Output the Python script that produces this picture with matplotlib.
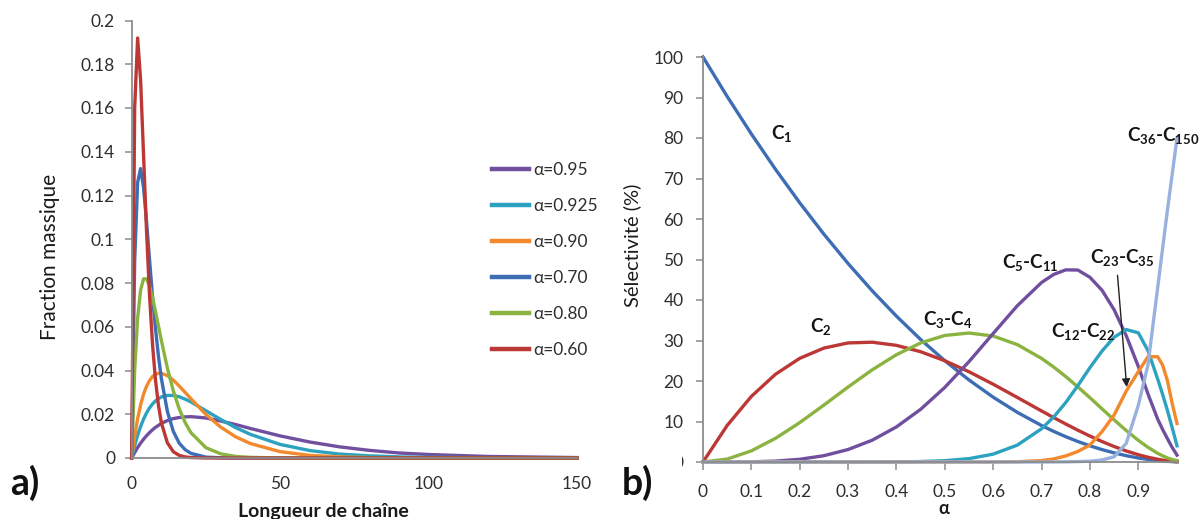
import matplotlib
matplotlib.use("Agg")
import matplotlib.pyplot as plt
from matplotlib.patches import Rectangle

plt.rcParams['font.family'] = ['Lato', 'DejaVu Sans']
plt.rcParams['mathtext.fontset'] = 'custom'
plt.rcParams['mathtext.rm'] = 'Lato'
plt.rcParams['mathtext.it'] = 'Lato:italic'
plt.rcParams['mathtext.bf'] = 'Lato:bold'

# ---------------- panel a) data ----------------
chain_len = [0, 1, 2, 3, 4, 5, 6, 7, 8, 9, 10, 12, 14, 16, 18, 20, 25, 30, 35, 40,
             50, 60, 70, 80, 90, 100, 120, 150]
w_095 = [0, .0025, .0048, .0068, .0086, .0102, .0116, .0129, .0140, .0149, .0158,
         .0171, .0180, .0185, .0188, .0189, .0183, .0169, .0153, .0135,
         .0101, .0073, .0051, .0035, .0023, .0016, .0007, .0002]
w_0925 = [0, .0056, .0104, .0144, .0178, .0206, .0229, .0247, .0261, .0271, .0279,
          .0286, .0286, .0280, .0269, .0256, .0216, .0176, .0139, .0108,
          .0062, .0034, .0018, .0010, .0005, .0003, .0001, 0]
w_090 = [0, .0100, .0180, .0243, .0292, .0328, .0354, .0372, .0383, .0387, .0387,
         .0377, .0356, .0329, .0300, .0270, .0199, .0141, .0097, .0066,
         .0029, .0012, .0005, .0002, .0001, 0, 0, 0]
w_070 = [0, .0900, .1260, .1323, .1235, .1080, .0908, .0741, .0593, .0467, .0363,
         .0214, .0122, .0068, .0038, .0021, .0004, .0001, 0, 0,
         0, 0, 0, 0, 0, 0, 0, 0]
w_080 = [0, .0400, .0640, .0768, .0819, .0819, .0786, .0734, .0671, .0604, .0537,
         .0412, .0308, .0225, .0162, .0115, .0047, .0019, .0007, .0003,
         0, 0, 0, 0, 0, 0, 0, 0]
w_060 = [0, .1600, .1920, .1728, .1382, .1037, .0746, .0522, .0358, .0242, .0161,
         .0070, .0029, .0012, .0005, .0002, 0, 0, 0, 0,
         0, 0, 0, 0, 0, 0, 0, 0]
legend_a = ['α=0.95', 'α=0.925', 'α=0.90', 'α=0.70', 'α=0.80', 'α=0.60']
ytick_a = [0, 0.02, 0.04, 0.06, 0.08, 0.1, 0.12, 0.14, 0.16, 0.18, 0.2]
ytick_a_lbl = ['0', '0.02', '0.04', '0.06', '0.08', '0.1', '0.12', '0.14', '0.16', '0.18', '0.2']
xtick_a = [0, 50, 100, 150]

# ---------------- panel b) data ----------------
alpha = [0, .05, .1, .15, .2, .25, .3, .35, .4, .45, .5, .55, .6, .65, .7,
         .725, .75, .775, .8, .825, .85, .875, .9, .92, .94, .95, .96, .97, .98]
s_c1 = [100, 90.25, 81, 72.25, 64, 56.25, 49, 42.25, 36, 30.25, 25, 20.25, 16, 12.25, 9,
        7.56, 6.25, 5.06, 4, 3.06, 2.25, 1.56, 1.0, 0.64, 0.36, 0.25, 0.16, 0.09, 0.04]
s_c2 = [0, 9.03, 16.2, 21.68, 25.6, 28.13, 29.4, 29.58, 28.8, 27.23, 25.0, 22.28, 19.2, 15.93, 12.6,
        10.97, 9.38, 7.85, 6.4, 5.05, 3.83, 2.73, 1.8, 1.18, 0.68, 0.48, 0.31, 0.17, 0.08]
s_c3_4 = [0, 0.72, 2.75, 5.85, 9.73, 14.06, 18.52, 22.77, 26.5, 29.4, 31.25, 31.85, 31.1, 28.98, 25.58,
          23.45, 21.09, 18.55, 15.87, 13.13, 10.4, 7.78, 5.35, 3.62, 2.15, 1.54, 1.02, 0.6, 0.33]
s_c5_11 = [0, 0, 0.05, 0.22, 0.67, 1.56, 3.08, 5.39, 8.67, 13.01, 18.43, 24.79, 31.74, 38.6, 44.32,
           46.31, 47.44, 47.4, 45.6, 42.4, 37.6, 31.2, 23.6, 16.8, 10.6, 8.1, 5.8, 3.6, 1.7]
s_c12_22 = [0, 0, 0, 0, 0, 0, 0, 0.01, 0.03, 0.11, 0.32, 0.83, 1.95, 4.18, 8.21,
            11.11, 14.68, 18.87, 23.3, 27.4, 30.8, 32.7, 31.9, 27.5, 20.5, 16.8, 12.8, 8.5, 4.0]
s_c23_35 = [0, 0, 0, 0, 0, 0, 0, 0, 0, 0, 0, 0, 0.01, 0.07, 0.35,
            0.75, 1.5, 2.6, 4.2, 7.5, 11.6, 17.5, 22.3, 26.0, 26.0, 24.0, 20.2, 14.5, 9.5]
s_c36_150 = [0, 0, 0, 0, 0, 0, 0, 0, 0, 0, 0, 0, 0, 0, 0,
             0.01, 0.04, 0.1, 0.2, 0.5, 1.3, 4.6, 14.0, 24.0, 43.0, 52.5, 62.0, 71.0, 80.0]
ytick_b = [0, 10, 20, 30, 40, 50, 60, 70, 80, 90, 100]
xtick_b = [0, 0.1, 0.2, 0.3, 0.4, 0.5, 0.6, 0.7, 0.8, 0.9]
xtick_b_lbl = ['0', '0.1', '0.2', '0.3', '0.4', '0.5', '0.6', '0.7', '0.8', '0.9']
labels_b = [r'$\mathbf{C_{1}}$', r'$\mathbf{C_{2}}$', r'$\mathbf{C_{3}}$-$\mathbf{C_{4}}$',
            r'$\mathbf{C_{5}}$-$\mathbf{C_{11}}$', r'$\mathbf{C_{12}}$-$\mathbf{C_{22}}$',
            r'$\mathbf{C_{23}}$-$\mathbf{C_{35}}$', r'$\mathbf{C_{36}}$-$\mathbf{C_{150}}$']
label_pos_b = [(0.162, 81), (0.243, 33.4), (0.5065, 35.2), (0.676, 49.3),
               (0.786, 32.1), (0.867, 50.4), (0.951, 80.5)]

# colours
BLUE = '#3D6DB5'
RED = '#BC3836'
GREEN = '#8AB340'
PURPLE = '#714F9F'
TEAL = '#2DA2C0'
ORANGE = '#F2892C'
LBLUE = '#98B1DD'
SPINE = '#8C8C8C'
TXT = '#2E2E2E'

W, H = 1199, 519
fig = plt.figure(figsize=(W / 100, H / 100), dpi=100)
fig.patch.set_facecolor('white')


def style_axes(ax):
    for s in ('top', 'right'):
        ax.spines[s].set_visible(False)
    for s in ('left', 'bottom'):
        ax.spines[s].set_color(SPINE)
        ax.spines[s].set_linewidth(1.3)
    ax.tick_params(colors=SPINE, labelcolor=TXT, labelsize=12.5, width=1.1)


# ---------------- panel a ----------------
axa = fig.add_axes([131.7 / W, 1 - 458 / H, (577 - 131.7) / W, (458 - 20.5) / H])
series_a = [w_095, w_0925, w_090, w_070, w_080, w_060]
colors_a = [PURPLE, TEAL, ORANGE, BLUE, GREEN, RED]
for ys, c, lab in zip(series_a, colors_a, legend_a):
    axa.plot(chain_len, ys, color=c, lw=2.4, label=lab, solid_joinstyle='round',
             clip_on=False)
axa.set_xlim(0, 150)
axa.set_ylim(0, 0.2)
style_axes(axa)
axa.set_yticks(ytick_a)
axa.set_yticklabels(ytick_a_lbl)
axa.set_xticks(xtick_a)
axa.tick_params(axis='y', direction='out', length=5, pad=7)
axa.tick_params(axis='x', length=0, pad=13)
leg = axa.legend(loc='upper left', bbox_to_anchor=(492 / W, 1 - 162 / H),
                 bbox_transform=fig.transFigure, frameon=False, fontsize=12.5,
                 handlelength=2.15, handletextpad=0.25, labelspacing=1.15,
                 borderpad=0, borderaxespad=0)
for line in leg.get_lines():
    line.set_linewidth(3.2)
for t in leg.get_texts():
    t.set_color(TXT)

fig.text(50 / W, 1 - 257 / H, 'Fraction massique', rotation=90, ha='center',
         va='center', fontsize=15, color='#1A1A1A')
fig.text(323 / W, 1 - 517 / H, 'Longueur de chaîne', ha='center', va='baseline',
         fontsize=14, fontweight='bold', color='#1A1A1A')
fig.text(10 / W, 1 - 495 / H, 'a)', ha='left', va='baseline', fontsize=27,
         fontweight='bold', color='#111111')

# ---------------- panel b ----------------
axb = fig.add_axes([703 / W, 1 - 462 / H, (1177 - 703) / W, (462 - 57) / H])
series_b = [s_c1, s_c2, s_c3_4, s_c5_11, s_c12_22, s_c23_35, s_c36_150]
colors_b = [BLUE, RED, GREEN, PURPLE, TEAL, ORANGE, LBLUE]
for ys, c in zip(series_b, colors_b):
    axb.plot(alpha, ys, color=c, lw=2.4, solid_joinstyle='round', clip_on=False)
axb.set_xlim(0, 0.98)
axb.set_ylim(0, 100)
style_axes(axb)
axb.set_yticks(ytick_b)
axb.set_xticks(xtick_b)
axb.set_xticklabels(xtick_b_lbl)
axb.tick_params(axis='y', direction='out', length=5, pad=9)
axb.tick_params(axis='x', direction='out', length=6, pad=10)

for lab, (xx, yy) in zip(labels_b, label_pos_b):
    axb.text(xx, yy, lab, ha='center', va='center', fontsize=13.5,
             fontweight='bold', color='#141414', clip_on=False)

axb.annotate('', xy=(0.876, 18.5), xytext=(0.857, 46.1),
             arrowprops=dict(arrowstyle='-|>', color='#222222', lw=1.0,
                             mutation_scale=12, shrinkA=0, shrinkB=0))

fig.text(632.7 / W, 1 - 245 / H, 'Sélectivité (%)', rotation=90, ha='center',
         va='center', fontsize=14.5, color='#1A1A1A')
fig.text(944 / W, 1 - 509 / H, 'α', ha='center', va='center', fontsize=13,
         fontweight='bold', color='#1A1A1A')
fig.text(622 / W, 1 - 495 / H, 'b)', ha='left', va='baseline', fontsize=27,
         fontweight='bold', color='#111111')
# occlusion of the left half of the "0" y tick label, as in the reference
fig.patches.append(Rectangle((660 / W, 1 - 476 / H), 22 / W, 26 / H,
                             transform=fig.transFigure, facecolor='white',
                             edgecolor='none', zorder=5))

fig.savefig('out.png', dpi=100, facecolor='white')
